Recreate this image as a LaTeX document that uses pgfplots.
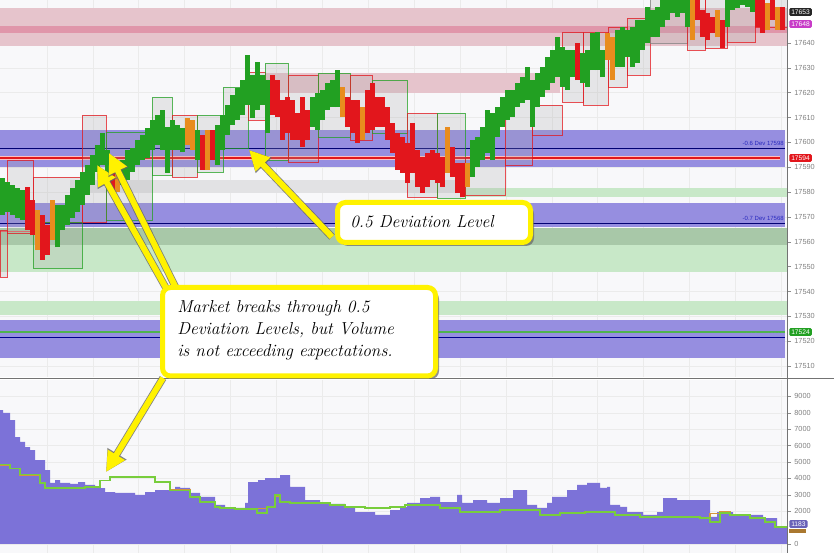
\documentclass[border=0pt]{standalone}
\usepackage{fontspec}
\setsansfont{Liberation Sans}
\usepackage{pgfplots}
\pgfplotsset{compat=1.18}
\usepackage{pgfplotstable}
\usetikzlibrary{arrows.meta}

\definecolor{bgc}{RGB}{248,248,250}
\definecolor{pinkL}{RGB}{230,196,204}
\definecolor{pinkD}{RGB}{224,150,170}
\definecolor{blueB}{RGB}{150,142,224}
\definecolor{grayB}{RGB}{226,226,228}
\definecolor{greenL}{RGB}{200,232,200}
\definecolor{greenD}{RGB}{168,200,168}
\definecolor{cg}{RGB}{34,160,34}
\definecolor{cr}{RGB}{226,22,28}
\definecolor{co}{RGB}{232,140,30}
\definecolor{volc}{RGB}{124,114,216}
\definecolor{yel}{RGB}{255,242,0}
\definecolor{avgG}{RGB}{120,205,60}
\definecolor{avgO}{RGB}{212,150,60}
\definecolor{devb}{RGB}{40,40,190}
\definecolor{mag}{RGB}{200,60,200}

\newcommand\band[5]{\addplot[fill=#1,draw=none,forget plot] coordinates {(#2,#4) (#3,#4) (#3,#5) (#2,#5)} -- cycle;}
\newcommand\rng[5]{\addplot[fill=gray!70,fill opacity=0.22,draw=#1,draw opacity=0.75,line width=0.45pt,forget plot] coordinates {(#2,#4) (#3,#4) (#3,#5) (#2,#5)} -- cycle;}

\pgfplotstableread{
x lo hi
2.5 17570.8 17585.7
7.5 17572.0 17584.1
12.5 17570.8 17582.9
17.5 17569.6 17581.7
22.5 17568.8 17580.8
57.5 17557.9 17574.8
62.5 17564.7 17574.8
67.5 17566.8 17578.8
72.5 17569.6 17581.7
77.5 17572.0 17584.9
82.5 17574.8 17588.1
87.5 17578.8 17590.9
92.5 17582.9 17594.9
97.5 17588.1 17598.9
102.5 17590.9 17603.8
107.5 17586.1 17596.9
122.5 17582.9 17592.9
127.5 17584.9 17596.9
132.5 17588.1 17597.7
137.5 17590.9 17601.0
142.5 17592.9 17603.0
147.5 17593.7 17605.8
152.5 17596.9 17609.0
157.5 17598.9 17611.0
162.5 17596.9 17613.0
167.5 17587.7 17606.2
172.5 17596.9 17609.0
177.5 17596.9 17607.0
182.5 17596.1 17605.8
197.5 17592.9 17605.0
217.5 17590.9 17607.0
222.5 17596.9 17611.0
227.5 17603.0 17615.0
232.5 17607.0 17619.1
237.5 17609.0 17621.9
242.5 17611.0 17625.1
247.5 17615.0 17635.2
252.5 17609.8 17627.1
257.5 17613.0 17632.4
262.5 17615.0 17627.1
267.5 17603.8 17625.1
312.5 17606.2 17618.3
317.5 17605.0 17619.9
322.5 17609.0 17621.1
327.5 17613.0 17623.9
332.5 17614.2 17625.1
337.5 17614.2 17629.1
472.5 17586.1 17601.0
477.5 17590.1 17602.2
482.5 17592.9 17606.2
487.5 17595.7 17613.0
492.5 17592.9 17611.8
497.5 17602.2 17614.2
502.5 17606.2 17618.3
507.5 17609.0 17621.1
512.5 17610.2 17621.1
517.5 17614.2 17623.9
522.5 17615.8 17626.3
527.5 17617.1 17630.3
532.5 17606.2 17625.1
537.5 17614.2 17627.9
542.5 17618.3 17630.3
547.5 17621.1 17634.4
552.5 17623.9 17637.2
557.5 17626.3 17642.4
562.5 17622.3 17638.4
567.5 17621.1 17637.2
572.5 17626.3 17637.2
582.5 17623.9 17636.0
587.5 17622.3 17637.2
592.5 17629.1 17644.0
597.5 17629.1 17644.4
602.5 17626.3 17637.2
617.5 17630.3 17645.2
622.5 17630.3 17646.4
627.5 17634.4 17645.2
632.5 17630.3 17646.4
637.5 17631.9 17649.3
642.5 17637.2 17649.3
647.5 17640.0 17654.5
652.5 17642.4 17653.3
657.5 17642.4 17654.5
662.5 17646.4 17659.3
667.5 17649.3 17659.3
672.5 17652.1 17659.3
677.5 17650.5 17659.3
682.5 17652.1 17659.3
687.5 17646.4 17659.3
727.5 17646.4 17658.5
732.5 17653.3 17659.3
737.5 17654.1 17659.3
742.5 17655.3 17659.3
747.5 17654.5 17659.3
752.5 17652.5 17659.3
}\greenbars

\pgfplotstableread{
x lo hi
27.5 17564.7 17582.1
32.5 17562.7 17576.8
42.5 17552.7 17570.8
47.5 17554.7 17566.8
112.5 17578.8 17591.7
202.5 17588.9 17603.0
212.5 17592.9 17605.0
272.5 17611.0 17627.1
277.5 17610.2 17625.1
282.5 17601.0 17617.1
287.5 17603.8 17618.3
292.5 17601.0 17617.1
297.5 17601.0 17611.8
302.5 17598.1 17618.3
307.5 17601.0 17613.0
347.5 17606.2 17618.3
352.5 17603.8 17617.1
357.5 17599.8 17617.1
367.5 17603.8 17621.1
372.5 17605.0 17623.9
377.5 17606.2 17618.3
382.5 17606.2 17618.3
387.5 17601.0 17614.2
392.5 17595.7 17607.8
397.5 17588.9 17603.8
402.5 17587.7 17602.2
407.5 17583.7 17599.8
412.5 17587.7 17607.8
417.5 17582.1 17596.9
422.5 17579.6 17594.1
427.5 17582.1 17595.7
432.5 17584.9 17596.9
437.5 17583.7 17595.7
442.5 17582.1 17594.1
452.5 17586.1 17598.1
457.5 17579.6 17591.7
462.5 17578.0 17591.7
577.5 17625.1 17640.0
697.5 17649.3 17658.5
702.5 17642.4 17653.3
707.5 17641.2 17652.1
712.5 17644.0 17650.5
722.5 17638.0 17649.3
757.5 17646.4 17658.5
762.5 17644.0 17657.3
772.5 17649.3 17657.3
782.5 17645.2 17654.5
}\redbars

\pgfplotstableread{
x lo hi
37.5 17556.7 17572.8
52.5 17560.7 17576.8
117.5 17580.0 17590.9
187.5 17598.9 17609.8
192.5 17596.9 17609.0
207.5 17588.9 17605.0
342.5 17610.2 17622.3
362.5 17601.0 17614.2
447.5 17587.7 17606.2
467.5 17582.1 17591.7
607.5 17633.2 17644.0
612.5 17625.1 17642.4
692.5 17641.2 17657.3
717.5 17642.4 17653.3
767.5 17645.2 17656.1
777.5 17645.2 17654.5
}\orangebars

\pgfplotsset{
  panel/.style={
    scale only axis, width=590.25pt, xmin=0, xmax=787,
    axis line style={draw=none},
    xtick={47,93,138,184,230,276,322,368,414,460,506,552,597,643,689,735,781},
    xticklabels={}, major x tick style={draw=none},
    ytick pos=right, yticklabel pos=right, tick align=outside,
    major tick length=3pt,
    scaled ticks=false,
    y tick style={draw=black!45, line width=0.4pt},
    yticklabel style={font=\sffamily\fontsize{5.5}{6}\selectfont, text=black!50, xshift=-1pt},
    grid=major, grid style={draw=black!8, line width=0.4pt},
    axis background/.style={fill=bgc},
    /pgf/number format/fixed,
    /pgf/number format/precision=0,
    /pgf/number format/set thousands separator={},
    /pgf/number format/assume math mode=true,
  },
  pbar/.style={draw=none, mark=none, forget plot,
    error bars/.cd, y dir=plus, y explicit, error mark=none,
    error bar style={line width=3.5pt, draw=#1, solid}},
}

\begin{document}
\begin{tikzpicture}
\fill[white] (0,0) rectangle (625.5pt,414.75pt);

% ---------------- price panel ----------------
\begin{axis}[panel, at={(0pt,132pt)}, anchor=south west, height=282.75pt,
  ymin=17505.6, ymax=17657.3, ytick={17510,17520,...,17640}]
\band{pinkL}{0}{787}{17654.1}{17638.8}
\band{pinkD}{0}{787}{17646.8}{17644.0}
\band{pinkL}{265}{560}{17627.9}{17619.9}
\band{blueB}{0}{785}{17605.0}{17590.1}
\band{grayB}{70}{470}{17584.9}{17579.6}
\band{greenL}{465}{787}{17581.7}{17578.0}
\band{blueB}{0}{785}{17575.6}{17566.0}
\band{greenD}{0}{787}{17565.5}{17558.7}
\band{greenL}{0}{787}{17558.7}{17547.9}
\band{greenL}{0}{787}{17536.2}{17530.5}
\band{blueB}{0}{785}{17528.5}{17513.2}
\addplot[draw=black!55!blue, line width=0.6pt, forget plot] coordinates {(0,17597.7) (785,17597.7)};
\addplot[draw=pink, line width=3pt, forget plot] coordinates {(0,17593.7) (780,17593.7)};
\addplot[draw=cr, line width=1.5pt, forget plot] coordinates {(0,17593.7) (780,17593.7)};
\addplot[draw=black!55!blue, line width=0.6pt, forget plot] coordinates {(0,17567.6) (785,17567.6)};
\addplot[draw=cg!80, line width=0.9pt, forget plot] coordinates {(0,17523.7) (785,17523.7)};
\addplot[draw=black!45!blue, line width=0.5pt, forget plot] coordinates {(0,17521.7) (785,17521.7)};
\addplot[draw=cr!70, line width=0.6pt, forget plot] coordinates {(0,17564.0) (33,17564.0)};
% range boxes
\rng{cr}{0}{7}{17564.7}{17545.8}
\rng{cr}{7}{33}{17592.9}{17563.5}
\rng{cr}{33}{82}{17586.1}{17568.0}
\rng{cg}{33}{82}{17568.0}{17549.5}
\rng{cr}{82}{106}{17611.0}{17568.0}
\rng{cg}{106}{152}{17604.2}{17568.8}
\rng{cg}{152}{172}{17618.3}{17586.9}
\rng{cr}{172}{197}{17611.0}{17586.1}
\rng{cg}{197}{223}{17611.0}{17588.1}
\rng{cg}{223}{248}{17622.3}{17597.7}
\rng{cr}{248}{265}{17628.3}{17609.0}
\rng{cg}{265}{288}{17632.0}{17592.9}
\rng{cr}{288}{318}{17627.1}{17592.1}
\rng{cg}{318}{350}{17627.9}{17602.2}
\rng{cr}{350}{372}{17627.1}{17601.0}
\rng{cg}{372}{407}{17625.1}{17603.8}
\rng{cr}{407}{437}{17611.8}{17578.0}
\rng{cg}{437}{465}{17611.8}{17577.6}
\rng{cr}{465}{505}{17594.1}{17578.8}
\rng{cr}{505}{532}{17620.3}{17590.9}
\rng{cr}{532}{562}{17615.0}{17603.0}
\rng{cr}{562}{583}{17644.4}{17616.3}
\rng{cr}{583}{608}{17644.4}{17615.0}
\rng{cr}{608}{627}{17646.4}{17622.3}
\rng{cr}{627}{650}{17650.1}{17627.1}
\rng{gray}{650}{687}{17659.3}{17640.0}
\rng{cr}{687}{705}{17659.3}{17637.2}
\rng{cr}{705}{727}{17659.3}{17638.0}
\rng{cr}{727}{755}{17659.3}{17640.4}
\rng{cr}{755}{787}{17659.3}{17646.4}
% bars
\addplot[pbar=cg] table[x=x, y=lo, y error expr=\thisrow{hi}-\thisrow{lo}] {\greenbars};
\addplot[pbar=cr] table[x=x, y=lo, y error expr=\thisrow{hi}-\thisrow{lo}] {\redbars};
\addplot[pbar=co] table[x=x, y=lo, y error expr=\thisrow{hi}-\thisrow{lo}] {\orangebars};
\end{axis}

% ---------------- volume panel ----------------
\begin{axis}[panel, at={(0pt,0pt)}, anchor=south west, height=129.75pt,
  ymin=-549, ymax=10000, ytick={0,2000,3000,...,9000}]
\addplot[const plot, fill=volc, draw=none, forget plot] coordinates {
(0,0) (0,8170) (3,7990) (10,7560) (15,6520) (20,6220) (25,5900) (30,5730) (35,5120)
(45,4510) (50,3720) (55,3900) (60,3720) (70,3660) (78,3780) (85,3600) (95,3480)
(100,3410) (105,3170) (115,3110) (135,2990) (145,3170) (155,3290) (175,3480)
(180,3415) (190,3110) (200,2870) (215,2380) (225,2200) (245,2500) (248,3780)
(258,3900) (265,4020) (280,4200) (290,3480) (305,2680) (320,2500) (330,2440)
(345,2260) (355,1950) (375,1770) (390,2070) (400,2260) (407,2500) (420,2800)
(430,2870) (440,2560) (457,2990) (462,2500) (473,2680) (487,2500) (500,2800)
(513,3290) (527,2380) (537,2200) (547,2500) (552,2870) (567,3290) (577,3600)
(587,3720) (600,3415) (607,3480) (610,2380) (620,2260) (627,1950) (643,1770)
(657,1950) (663,2800) (677,2680) (710,1650) (717,1950) (733,1770) (763,1585)
(777,1040) (787,1040) (787,0)} -- cycle;
\addplot[const plot, draw=avgO, line width=0.8pt, forget plot] coordinates {
(0,4780) (10,4600) (20,4180) (40,3700) (45,3440) (85,3500) (100,3880) (110,4060)
(155,3760) (170,3310) (190,2880) (200,2580) (215,2280) (220,2210) (235,2150)
(267,2240) (275,2900) (280,2580) (290,2520) (330,2400) (345,2280) (365,2210)
(390,2270) (405,2400) (440,2210) (460,1980) (500,2090) (540,1800) (560,1900)
(585,1960) (615,1790) (640,1680) (700,1620) (710,1850) (720,1950) (730,1800)
(750,1610) (765,1380) (775,1080) (787,1080)};
\addplot[const plot, draw=avgG, line width=0.8pt, forget plot] coordinates {
(0,4820) (10,4630) (20,4210) (40,3720) (45,3415) (85,3476) (100,3900) (110,4085)
(155,3780) (170,3290) (190,2866) (200,2561) (215,2256) (220,2195) (235,2134)
(257,1890) (267,2256) (275,2988) (280,2561) (290,2500) (330,2378) (345,2256)
(365,2195) (390,2256) (405,2378) (440,2195) (460,1951) (500,2073) (540,1768)
(560,1890) (585,1951) (615,1768) (640,1646) (700,1585) (710,1341) (720,1890)
(730,1768) (750,1585) (765,1341) (775,1037) (787,1037)};
\end{axis}

% ---------------- annotations (pixel frame) ----------------
\begin{scope}[x=0.75pt, y=-0.75pt, yshift=414.75pt]
\draw[black!55, line width=0.7pt] (0,378) -- (834,378);
\draw[black!55, line width=0.7pt] (787,0) -- (787,553);
\node[anchor=east, font=\sffamily\fontsize{4.5}{5}\selectfont, text=devb, inner sep=0pt] at (784,143) {-0.6 Dev 17598};
\node[anchor=east, font=\sffamily\fontsize{4.5}{5}\selectfont, text=devb, inner sep=0pt] at (784,218) {-0.7 Dev 17568};
\node[anchor=east, font=\sffamily\fontsize{4.5}{5}\selectfont, text=devb!50, inner sep=0pt] at (784,335) {-1.0 Dev 17522};
\tikzset{tag/.style={font=\sffamily\fontsize{5}{5}\selectfont, text=white, inner xsep=1.5pt, inner ysep=1.2pt, rounded corners=1pt, anchor=west}}
\node[tag, fill=black!85] at (789,12) {17653};
\node[tag, fill=mag] at (789,24) {17648};
\node[tag, fill=cr] at (789,158) {17594};
\node[tag, fill=cg] at (789,332) {17524};
\node[tag, fill=volc!85!black] at (789,524) {1183};
\fill[avgO!80!black] (789,529) rectangle (806,533);
% arrows
\foreach \xa/\ya/\xb/\yb in {332/237/249/150, 166/288/97/165, 176/288/109/153, 163/378/106/472} {
  \draw[black!60, opacity=0.8, line width=5.6pt, -{Triangle[length=16pt,width=15.5pt]}] (\xa,\ya) -- (\xb,\yb);
  \draw[yel, line width=4.4pt, -{Triangle[length=15pt,width=14pt]}] (\xa,\ya) -- (\xb,\yb);
}
% callout 1
\fill[black!60, opacity=0.7, rounded corners=6pt] (340,206) rectangle (534,246);
\draw[yel, line width=3.75pt, fill=white, rounded corners=6pt] (337.5,202.5) rectangle (530.5,242.5);
\node[anchor=base west, inner sep=0pt, font=\rmfamily\itshape\fontsize{13}{16.5}\selectfont] at (350,228) {0.5 Deviation Level};
% callout 2
\fill[black!60, opacity=0.7, rounded corners=6pt] (165,291) rectangle (439,379);
\draw[yel, line width=3.75pt, fill=white, rounded corners=6pt] (162.5,287.5) rectangle (435.5,376);
\node[anchor=base west, inner sep=0pt, align=left, font=\rmfamily\itshape\fontsize{13}{16.5}\selectfont] at (177,357) {Market breaks through 0.5\\Deviation Levels, but Volume\\is not exceeding expectations.};
\end{scope}

\pgfresetboundingbox
\path[use as bounding box] (0,0) rectangle (625.5pt,414.75pt);
\end{tikzpicture}
\end{document}
